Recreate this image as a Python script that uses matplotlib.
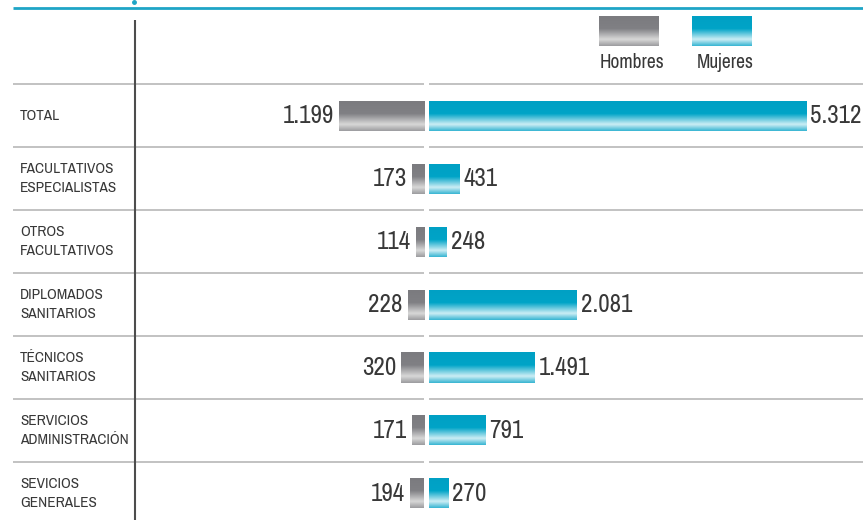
import numpy as np
import matplotlib.pyplot as plt
from matplotlib import font_manager
from matplotlib.colors import LinearSegmentedColormap

categories = ['TOTAL', 'FACULTATIVOS\nESPECIALISTAS', 'OTROS\nFACULTATIVOS',
              'DIPLOMADOS\nSANITARIOS', 'TÉCNICOS\nSANITARIOS',
              'SERVICIOS\nADMINISTRACIÓN', 'SEVICIOS\nGENERALES']
hombres = [1199, 173, 114, 228, 320, 171, 194]
mujeres = [5312, 431, 248, 2081, 1491, 791, 270]
series = ['Hombres', 'Mujeres']


def weight_num(w):
    if isinstance(w, str):
        return font_manager.weight_dict.get(w, 400)
    return w


# pick a narrow regular face if one is around, the original uses a condensed font
narrow = [f for f in font_manager.fontManager.ttflist
          if f.style == 'normal' and (
              f.stretch in ('condensed', 'semi-condensed')
              or 'Narrow' in f.name or 'Condensed' in f.name)]
narrow.sort(key=lambda f: (abs(weight_num(f.weight) - 400), f.name))
if narrow:
    plt.rcParams['font.family'] = [narrow[0].name, 'DejaVu Sans']
    plt.rcParams['font.stretch'] = narrow[0].stretch
    plt.rcParams['font.weight'] = weight_num(narrow[0].weight)
else:
    plt.rcParams['font.family'] = ['Roboto', 'DejaVu Sans']

W, H = 863, 520
scale = 0.071          # pixels per person
center = 426.5         # pixel column between the two sides
row_px = 63.0
row0_px = 115.5
gap = 2.5 / scale
bar_h = 30 / row_px
txt = '#383838'

gray_cmap = LinearSegmentedColormap.from_list(
    'g', [(0, '#7b7b7f'), (0.42, '#808084'), (0.78, '#d8d8d8'), (1, '#9c9c9f')])
cyan_cmap = LinearSegmentedColormap.from_list(
    'c', [(0, '#00a0c4'), (0.42, '#00a4c7'), (0.78, '#cdeef5'), (1, '#38b5d2')])
grad = np.linspace(0, 1, 120).reshape(-1, 1)


def fmt(v):
    return f'{v:,}'.replace(',', '.')


def px_x(p):
    return (p - center) / scale


def px_y(p):
    return (p - row0_px) / row_px


fig = plt.figure(figsize=(W / 100, H / 100), dpi=100)
ax = fig.add_axes([0, 0, 1, 1])
ax.axis('off')

for i, (cat, h, m) in enumerate(zip(categories, hombres, mujeres)):
    top, bot = i - bar_h / 2, i + bar_h / 2
    ax.imshow(grad, extent=(-gap - h, -gap, bot, top), aspect='auto',
              cmap=gray_cmap, origin='upper', interpolation='bilinear', zorder=3)
    ax.imshow(grad, extent=(gap, gap + m, bot, top), aspect='auto',
              cmap=cyan_cmap, origin='upper', interpolation='bilinear', zorder=3)
    ax.text(-gap - h - 5 / scale, i, fmt(h), ha='right', va='center',
            fontsize=18, color=txt)
    ax.text(gap + m + 4 / scale, i, fmt(m), ha='left', va='center',
            fontsize=18, color=txt)
    ax.text(px_x(20), i, cat, ha='left', va='center', fontsize=11,
            color=txt, linespacing=1.5)

# row separators with a small break at the centre
seps = np.arange(len(categories)) - 0.5
ax.hlines(seps, px_x(13), -gap, color='#b8b8b8', lw=1.2)
ax.hlines(seps, gap, px_x(W), color='#b8b8b8', lw=1.2)

# vertical divider and top rule
ax.vlines(px_x(135), px_y(20), px_y(H), color='#4d4d4d', lw=1.5)
ax.hlines(px_y(8), px_x(13), px_x(W), color='#1ea5c6', lw=2)
ax.plot([px_x(134)], [px_y(2)], 'o', ms=2.5, color='#1ea5c6')

# legend
for k, (name, cmap) in enumerate(zip(series, [gray_cmap, cyan_cmap])):
    x0 = 599 + k * 93
    ax.imshow(grad, extent=(px_x(x0), px_x(x0 + 60), px_y(46), px_y(16)),
              aspect='auto', cmap=cmap, origin='upper', interpolation='bilinear')
    ax.text(px_x(x0 + 33), px_y(62), name, ha='center', va='center',
            fontsize=14, color=txt)

ax.set_xlim(px_x(0), px_x(W))
ax.set_ylim(px_y(H), px_y(0))

fig.savefig('out.png', dpi=100)
